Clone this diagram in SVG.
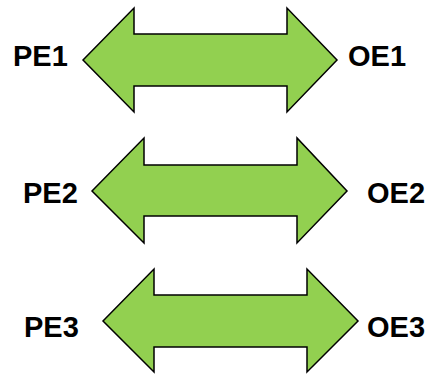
<svg xmlns="http://www.w3.org/2000/svg" width="434" height="375" viewBox="0 0 434 375">
  <style>
    .arrow { fill: #92D050; stroke: #000; stroke-width: 1.5; stroke-linejoin: miter; }
    .label { font-family: "Liberation Sans", Arial, sans-serif; font-weight: bold; font-size: 29px; fill: #000; }
  </style>
  <rect width="434" height="375" fill="#fff"/>
  <g id="pair1">
    <polygon class="arrow" points="83,60 134,8 134,34 287,34 287,8 337,60 287,112 287,86 134,86 134,112"/>
    <text class="label" x="13" y="66">PE1</text>
    <text class="label" x="348" y="66">OE1</text>
  </g>
  <g id="pair2">
    <polygon class="arrow" points="92,191 144,138 144,165 297,165 297,138 347,191 297,243 297,216 144,216 144,243"/>
    <text class="label" x="23" y="203">PE2</text>
    <text class="label" x="367" y="203">OE2</text>
  </g>
  <g id="pair3">
    <polygon class="arrow" points="103,321 154,269 154,295 307,295 307,269 358,321 307,372 307,347 154,347 154,372"/>
    <text class="label" x="24" y="337">PE3</text>
    <text class="label" x="367" y="337">OE3</text>
  </g>
</svg>
